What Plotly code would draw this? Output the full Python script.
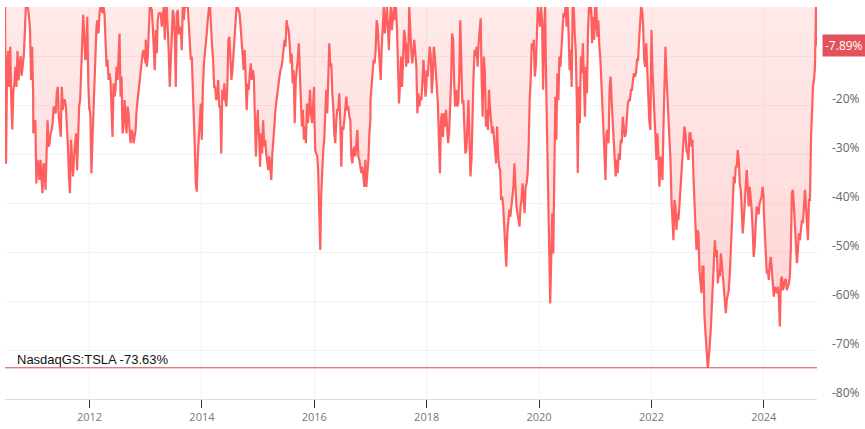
import pandas as pd
import plotly.graph_objects as go

# Drawdown (%) of NasdaqGS:TSLA from its running peak, one list per year
dd_2010 = [0, -32, -12, -9, -16.3, -8.1, -19.0, -25, -17, -15.6, -12.2, -16.3, -9, -15, -12, -10, -14, -11.5,
           -10, -5.4, 0, 0, 0, -2, -4.5, -14.9, -8.1, -18]
dd_2011 = [-25.8, -23.7, -23.1, -36.0, -31.2, -32.6, -35.3, -31.2, -35.3, -38.0, -31.9, -32.6, -37.3, -27.1,
           -23.1, -28.5, -27.8, -25.8, -25.1, -23.7, -20.3, -21.0, -21.7, -17.6, -16.3, -22.4, -25.1, -26.5,
           -16.3, -21.0, -19.0, -19.0, -20.3, -23.7, -28.5, -34.6, -38.0, -27.1, -31.9, -34.6, -30.5, -27.8,
           -25.8, -33.3, -24.4, -20.3, -19.0, -12.2, -8.1, -1.6, -5.4, -10.8, -10.1, -2.0, -15.6, -21.0]
dd_2012 = [-20.3, -22.4, -33.9, -27.1, -21.0, -15.6, -10.8, -4.0, -2.7, -5.4, -1.3, 0, 0, -1.3, 0, -1.3, -6.7,
           -12.2, -10.8, -14.9, -13.5, -14.9, -21.0, -26.5, -15.6, -18.3, -16.9, -12.2, -14.9, -10.8, -5.4,
           -18.3, -14.2, -25.8, -24.4, -19.0, -21.7, -25.8, -20.3, -21.7, -25.1, -27.8, -25.1, -25.8, -27.8,
           -26.5, -25.1, -21.0, -19.0, -17.6, -14.9, -13.5, -10.8, -9.5, -8.8, -10.8, -11.5]
dd_2013 = [-6.7, -12.2, -10.1, -4.7, 0, 0, -0.6, -4.0, -8.8, -12.9, -4.7, -9.5, -2.7, -1.3, -1.3, -1.3, -4.0,
           -1.3, 0, -6.7, 0, 0, -4.0, -9.5, -16.3, -8.8, -6.1, -0.6, -2.0, -6.1, -16.3, -1.3, -0.6, -5.4, -5.4,
           -4.0, -8.8, 0, -2.7, 0, 0, 0, 0, -3.4, -8.8, -10.8, -10.1, -15.6, -19.0, -28.5, -36.0, -37.7, -30.5,
           -25.8, -22.4, -19.7, -27.1]
dd_2014 = [-24.4, -16.3, -11.5, -9.5, -7.4, -4.7, -2.0, 0, 0, -5.4, -8.1, -10.8, -16.3, -16.3, -19.0, -18.3,
           -14.9, -20.3, -20.3, -29.9, -16.9, -19.0, -15.6, -19.0, -20.3, -15.6, -6.7, -6.1, -12.9, -14.9, -12.9,
           -9.5, -6.1, -2.7, 0, 0, -0.6, -1.3, -4.0, -7.4, -10.1, -12.9, -8.8, -16.9, -21.0, -15.6, -16.9, -13.5,
           -11.5, -14.9, -12.9, -14.2, -20.3, -30.5, -24.4, -21.0]
dd_2015 = [-23.7, -26.5, -32.6, -25.8, -29.9, -23.1, -28.5, -27.1, -29.9, -31.9, -33.3, -30.5, -32.6, -35.3,
           -29.9, -25.8, -24.4, -21.0, -19.0, -16.9, -14.9, -14.2, -12.9, -12.2, -10.8, -8.8, -6.7, -8.1, -2.7,
           -4.0, -4.7, -7.4, -11.5, -9.5, -15.6, -12.9, -23.7, -14.9, -12.9, -10.8, -7.4, -12.2, -17.6, -24.4,
           -21.0, -27.1, -24.4, -27.8, -19.7, -23.7, -21.0, -16.9, -21.7, -23.7, -20.3, -16.3]
dd_2016 = [-20.3, -29.2, -29.9, -30.5, -33.9, -40.7, -49.6, -38.0, -32.6, -29.2, -27.1, -19.0, -16.9, -21.7,
           -15.6, -7.4, -12.2, -11.5, -17.6, -20.3, -25.8, -27.8, -23.1, -21.0, -21.0, -17.6, -23.7, -32.6,
           -24.4, -25.1, -23.1, -20.3, -18.3, -21.0, -20.3, -22.4, -23.1, -30.5, -31.9, -29.2, -28.5, -30.5,
           -27.1, -25.1, -30.5, -31.2, -32.6, -33.9, -32.6, -35.3, -36.7, -31.2, -36.7, -33.9, -31.2, -25.8, -23.1]
dd_2017 = [-19.0, -16.3, -12.9, -10.8, -11.5, -8.8, -2.7, -4.0, -8.1, -12.2, -14.9, -8.1, -4.0, 0, -5.4, -2.7,
           0, -4.0, -8.8, -2.7, 0, -4.7, -1.3, 0, -2.7, 0, -4.7, -12.2, -19.7, -15.6, -10.1, -16.3, -11.5, -4.7,
           -6.1, -12.2, -7.4, -11.5, 0, -5.4, -8.8, -11.5, -9.5, -6.7, -9.5, -12.2, -21.7, -17.6, -20.3, -18.3,
           -19.0, -14.9, -10.8, -14.9, -18.3, -15.6]
dd_2018 = [-12.9, -14.2, -10.1, -8.1, -10.1, -17.6, -14.2, -8.1, -10.1, -14.2, -16.9, -19.7, -27.1, -33.9,
           -23.1, -21.7, -26.5, -21.7, -24.4, -21.0, -24.4, -27.8, -25.8, -21.0, -14.9, -5.4, -6.7, -15.6, -20.3,
           -16.9, -20.3, -19.7, -14.2, -2.7, -12.2, -19.7, -19.0, -23.1, -29.9, -29.2, -22.4, -19.0, -27.1,
           -34.6, -31.2, -19.0, -14.2, -8.8, -10.1, -8.1, -12.2, -7.4, -5.4, -2.3, -14.9, -22.4]
dd_2019 = [-19.0, -10.1, -13.5, -24.4, -21.0, -25.1, -16.9, -20.3, -23.1, -25.8, -24.4, -27.8, -29.2, -31.9,
           -24.4, -29.9, -32.6, -33.3, -39.4, -38.7, -40.7, -44.8, -50.3, -53.0, -46.2, -43.5, -41.4, -42.8,
           -40.7, -39.4, -36.7, -31.9, -38.0, -40.7, -42.1, -43.5, -44.8, -40.7, -39.4, -36.0, -39.4, -42.1,
           -36.7, -36.0, -33.9, -28.5, -19.0, -14.9, -7.4, -8.8, -6.7, -14.2, -12.2, -4.0, 0, -2.7]
dd_2020 = [-1.3, -4.0, 0, -2.7, -16.9, -5.4, 0, -15.6, -27.1, -40.7, -50.3, -60.5, -51.0, -42.1, -50.3, -29.2,
           -18.3, -27.1, -13.5, -19.0, -10.1, -12.2, -7.4, -4.0, -1.3, -2.0, 0, -4.0, 0, -5.4, -12.9, -8.8,
           -16.3, 0, 0, -5.4, -8.8, -19.0, -33.9, -16.3, -23.7, -10.1, -13.5, -7.4, -15.6, -22.4, -12.2, -17.6,
           -4.7, 0, -1.3, 0, -7.4, -2.0, -6.7, 0]
dd_2021 = [-4.7, 0, -6.1, -2.7, -8.1, -10.8, -15.6, -21.7, -25.8, -29.9, -35.3, -25.8, -25.1, -27.8, -16.9,
           -14.2, -19.0, -23.1, -27.8, -31.9, -34.6, -31.2, -33.9, -29.9, -31.2, -27.1, -27.8, -22.4, -25.1,
           -26.5, -25.8, -23.1, -19.7, -19.0, -19.0, -16.9, -16.9, -14.9, -13.5, -14.2, -13.5, -10.8, -10.8,
           -6.7, -2.0, 0, -0.6, -4.0, -10.8, -12.2, -7.4, -12.9, -16.9, -23.1, -25.1, -8.1]
dd_2022 = [-4.7, -12.9, -17.6, -23.1, -28.5, -31.2, -25.8, -32.6, -36.7, -30.5, -32.6, -35.3, -24.4, -15.6,
           -8.1, -14.2, -18.3, -21.7, -24.4, -31.2, -39.4, -43.5, -47.6, -39.4, -40.7, -45.5, -42.1, -43.5,
           -39.4, -37.3, -33.9, -30.5, -26.5, -24.4, -25.8, -29.2, -29.9, -31.2, -25.8, -25.8, -28.5, -27.1,
           -34.6, -40.7, -46.2, -49.6, -45.5, -46.2, -53.7, -57.1, -58.4, -53.0, -53.0, -63.2, -67.3, -70.7, -72.7]
dd_2023 = [-73.63, -71.7, -68.6, -65.2, -60.5, -55.7, -51.0, -47.6, -51.0, -49.6, -56.4, -53.7, -55.0, -50.3,
           -52.3, -55.0, -55.7, -59.1, -62.5, -59.8, -58.4, -57.8, -54.4, -50.3, -43.5, -40.1, -34.6, -36.0,
           -32.6, -32.6, -29.2, -31.2, -36.0, -37.3, -41.4, -46.2, -43.5, -40.1, -37.3, -33.3, -36.7, -40.7,
           -36.7, -38.7, -41.4, -45.5, -51.0, -48.9, -44.1, -40.7, -42.1, -42.1, -40.1, -39.4, -38.7, -36.7, -38.7]
dd_2024 = [-41.4, -45.5, -48.9, -54.4, -53.7, -55.7, -52.3, -51.0, -53.7, -57.1, -59.1, -57.1, -57.8, -58.4,
           -57.1, -59.1, -65.2, -55.7, -55.0, -57.8, -57.1, -55.7, -55.7, -57.8, -57.1, -56.4, -55.0, -48.9,
           -38.0, -37.3, -40.7, -44.8, -48.9, -52.3, -49.6, -46.2, -47.6, -45.5, -43.5, -44.1, -40.7, -37.3,
           -40.7, -45.5, -47.6, -39.4, -39.4, -27.1, -20.3, -16.3, -14.9, -12.2, 0, -7.89]

# time span covered by each yearly list
year_spans = {
    2010: ("2010-07-01", "2010-12-31", dd_2010),
    2011: ("2011-01-01", "2011-12-31", dd_2011),
    2012: ("2012-01-01", "2012-12-31", dd_2012),
    2013: ("2013-01-01", "2013-12-31", dd_2013),
    2014: ("2014-01-01", "2014-12-31", dd_2014),
    2015: ("2015-01-01", "2015-12-31", dd_2015),
    2016: ("2016-01-01", "2016-12-31", dd_2016),
    2017: ("2017-01-01", "2017-12-31", dd_2017),
    2018: ("2018-01-01", "2018-12-31", dd_2018),
    2019: ("2019-01-01", "2019-12-31", dd_2019),
    2020: ("2020-01-01", "2020-12-31", dd_2020),
    2021: ("2021-01-01", "2021-12-31", dd_2021),
    2022: ("2022-01-01", "2022-12-31", dd_2022),
    2023: ("2023-01-03", "2023-12-31", dd_2023),
    2024: ("2024-01-01", "2024-12-12", dd_2024),
}

max_drawdown = -73.63
last_value = -7.89
ticker_label = "NasdaqGS:TSLA"
y_ticks = [-80, -70, -60, -50, -40, -30, -20, -10, 0]
y_tick_text = ["-80%", "-70%", "-60%", "-50%", "-40%", "-30%", "-20%", "", ""]

dates, values = [], []
for y, (s, e, vals) in year_spans.items():
    dates.extend(pd.date_range(s, e, periods=len(vals)))
    values.extend(vals)

LINE = "#ff5f5f"

fig = go.Figure()
fig.add_trace(go.Scatter(
    x=dates, y=values, mode="lines",
    line=dict(color=LINE, width=2.2),
    fill="tozeroy",
    fillgradient=dict(type="vertical", start=-80, stop=0,
                      colorscale=[[0, "rgba(255,90,90,0.28)"], [1, "rgba(255,90,90,0.13)"]]),
    hoverinfo="skip", showlegend=False,
))

fig.add_shape(type="line", xref="paper", x0=0, x1=1, yref="y", y0=max_drawdown, y1=max_drawdown,
              line=dict(color="#d9484f", width=1))
fig.add_annotation(xref="paper", x=0.012, yref="y", y=max_drawdown, xanchor="left", yanchor="bottom",
                   text=f"{ticker_label} {max_drawdown:.2f}%", showarrow=False,
                   font=dict(family="Liberation Sans, Arial", size=13, color="#111"), yshift=-1)
fig.add_annotation(xref="paper", x=1, yref="y", y=last_value, xanchor="left", yanchor="middle",
                   text=f"{last_value:.2f}%", showarrow=False, xshift=5, yshift=0,
                   bgcolor="#e2525c", borderpad=2,
                   font=dict(family="Open Sans", size=12, color="white"))

fig.update_layout(
    width=865, height=429,
    margin=dict(l=5, r=46, t=7, b=30),
    paper_bgcolor="white", plot_bgcolor="white",
    showlegend=False,
    xaxis=dict(type="date", range=["2010-07-01", "2024-12-12"],
               tick0="2012-01-01", dtick="M24", tickformat="%Y",
               ticks="outside", ticklen=8, tickcolor="#333", tickwidth=1,
               showline=True, linecolor="#dddddd", linewidth=1,
               showgrid=True, gridcolor="#f3f3f3", zeroline=False,
               tickfont=dict(family="Open Sans", size=11, color="#777")),
    yaxis=dict(range=[-80, 0], side="right", tickvals=y_ticks, ticktext=y_tick_text,
               showgrid=True, gridcolor="#f3f3f3", zeroline=False, showline=False, ticks="",
               ticklabelstandoff=14, ticklabelshift=-6,
               tickfont=dict(family="Open Sans", size=12, color="#666")),
)

fig.write_html("out.html", config={"displayModeBar": False},
               post_script="document.body.style.margin='0';")
